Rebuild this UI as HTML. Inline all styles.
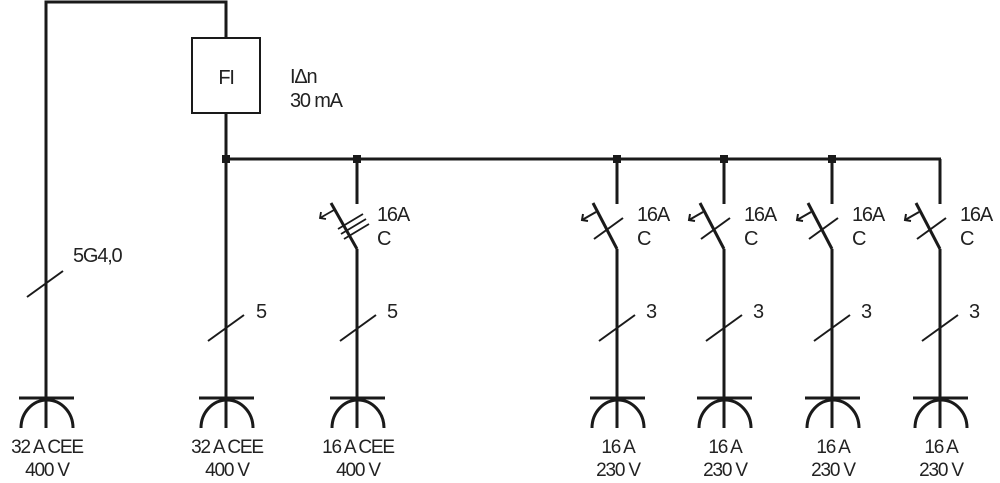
<!DOCTYPE html>
<html><head><style>
body{margin:0;background:#fff}
svg{display:block}
text{font-family:"Liberation Sans",Arial,sans-serif;fill:#222;letter-spacing:-1.2px}
</style></head><body>
<svg width="1000" height="483" viewBox="0 0 1000 483" xmlns="http://www.w3.org/2000/svg">
<g stroke="#1a1a1a" stroke-width="3" fill="none">
<polyline points="46,428 46,2 226,2 226,38"/>
<rect x="192" y="38" width="68" height="75" stroke-width="2"/>
<line x1="226" y1="113" x2="226" y2="428"/>
<line x1="226" y1="159" x2="941" y2="159"/>
<!-- 400V switch -->
<line x1="357" y1="159" x2="357" y2="204"/>
<line x1="331" y1="203" x2="357" y2="249"/>
<line x1="357" y1="249" x2="357" y2="428"/>
<g stroke-width="1.8">
<line x1="338" y1="229" x2="363" y2="214"/>
<line x1="341" y1="234" x2="366" y2="219"/>
<line x1="344" y1="239" x2="369" y2="224"/>
<polyline points="334,210 320,218"/>
<polyline points="321,212 320,218 326,219"/>
</g>
<!-- slashes -->
<g stroke-width="2">
<line x1="27" y1="297" x2="63" y2="271"/>
<line x1="208" y1="341" x2="244" y2="315"/>
<line x1="340" y1="341" x2="376" y2="315"/>
</g>
</g>
<g id="sw" stroke="#1a1a1a" stroke-width="3" fill="none">
<line x1="617" y1="159" x2="617" y2="204"/>
<line x1="593" y1="203" x2="617" y2="249"/>
<line x1="617" y1="249" x2="617" y2="428"/>
<g stroke-width="2">
<line x1="594" y1="239" x2="623" y2="218"/>
<polyline points="596,212 582,220"/>
<polyline points="583,214 582,220 588,221"/>
<line x1="599" y1="341" x2="635" y2="315"/>
</g>
</g>
<use href="#sw" x="107"/>
<use href="#sw" x="215"/>
<use href="#sw" x="323"/>
<g id="so" stroke="#1a1a1a" stroke-width="3" fill="none">
<line x1="19" y1="398" x2="74" y2="398"/>
<path d="M21,428 A26,28 0 0 1 73,428"/>
</g>
<use href="#so" x="180"/>
<use href="#so" x="311"/>
<use href="#so" x="571"/>
<use href="#so" x="678"/>
<use href="#so" x="786"/>
<use href="#so" x="894"/>
<g fill="#1a1a1a">
<rect x="222" y="155" width="8" height="8"/>
<rect x="353" y="155" width="8" height="8"/>
<rect x="613" y="155" width="8" height="8"/>
<rect x="720" y="155" width="8" height="8"/>
<rect x="828" y="155" width="8" height="8"/>
</g>
<g font-size="20">
<text x="226" y="84" text-anchor="middle">FI</text>
<text x="290" y="83">IΔn</text>
<text x="290" y="107">30 mA</text>
<text x="73" y="262">5G4,0</text>
<text x="256" y="318">5</text>
<text x="387" y="318">5</text>
<text x="646" y="318">3</text>
<text x="753" y="318">3</text>
<text x="861" y="318">3</text>
<text x="969" y="318">3</text>
<text x="377" y="221">16A</text><text x="377" y="245">C</text>
<text x="637" y="221">16A</text><text x="637" y="245">C</text>
<text x="744" y="221">16A</text><text x="744" y="245">C</text>
<text x="852" y="221">16A</text><text x="852" y="245">C</text>
<text x="960" y="221">16A</text><text x="960" y="245">C</text>
</g>
<g font-size="19" text-anchor="middle">
<text x="47" y="453">32 A CEE</text><text x="47" y="476">400 V</text>
<text x="227" y="453">32 A CEE</text><text x="227" y="476">400 V</text>
<text x="358" y="453">16 A CEE</text><text x="358" y="476">400 V</text>
<text x="618" y="453">16 A</text><text x="618" y="476">230 V</text>
<text x="725" y="453">16 A</text><text x="725" y="476">230 V</text>
<text x="833" y="453">16 A</text><text x="833" y="476">230 V</text>
<text x="941" y="453">16 A</text><text x="941" y="476">230 V</text>
</g>
</svg>
</body></html>
